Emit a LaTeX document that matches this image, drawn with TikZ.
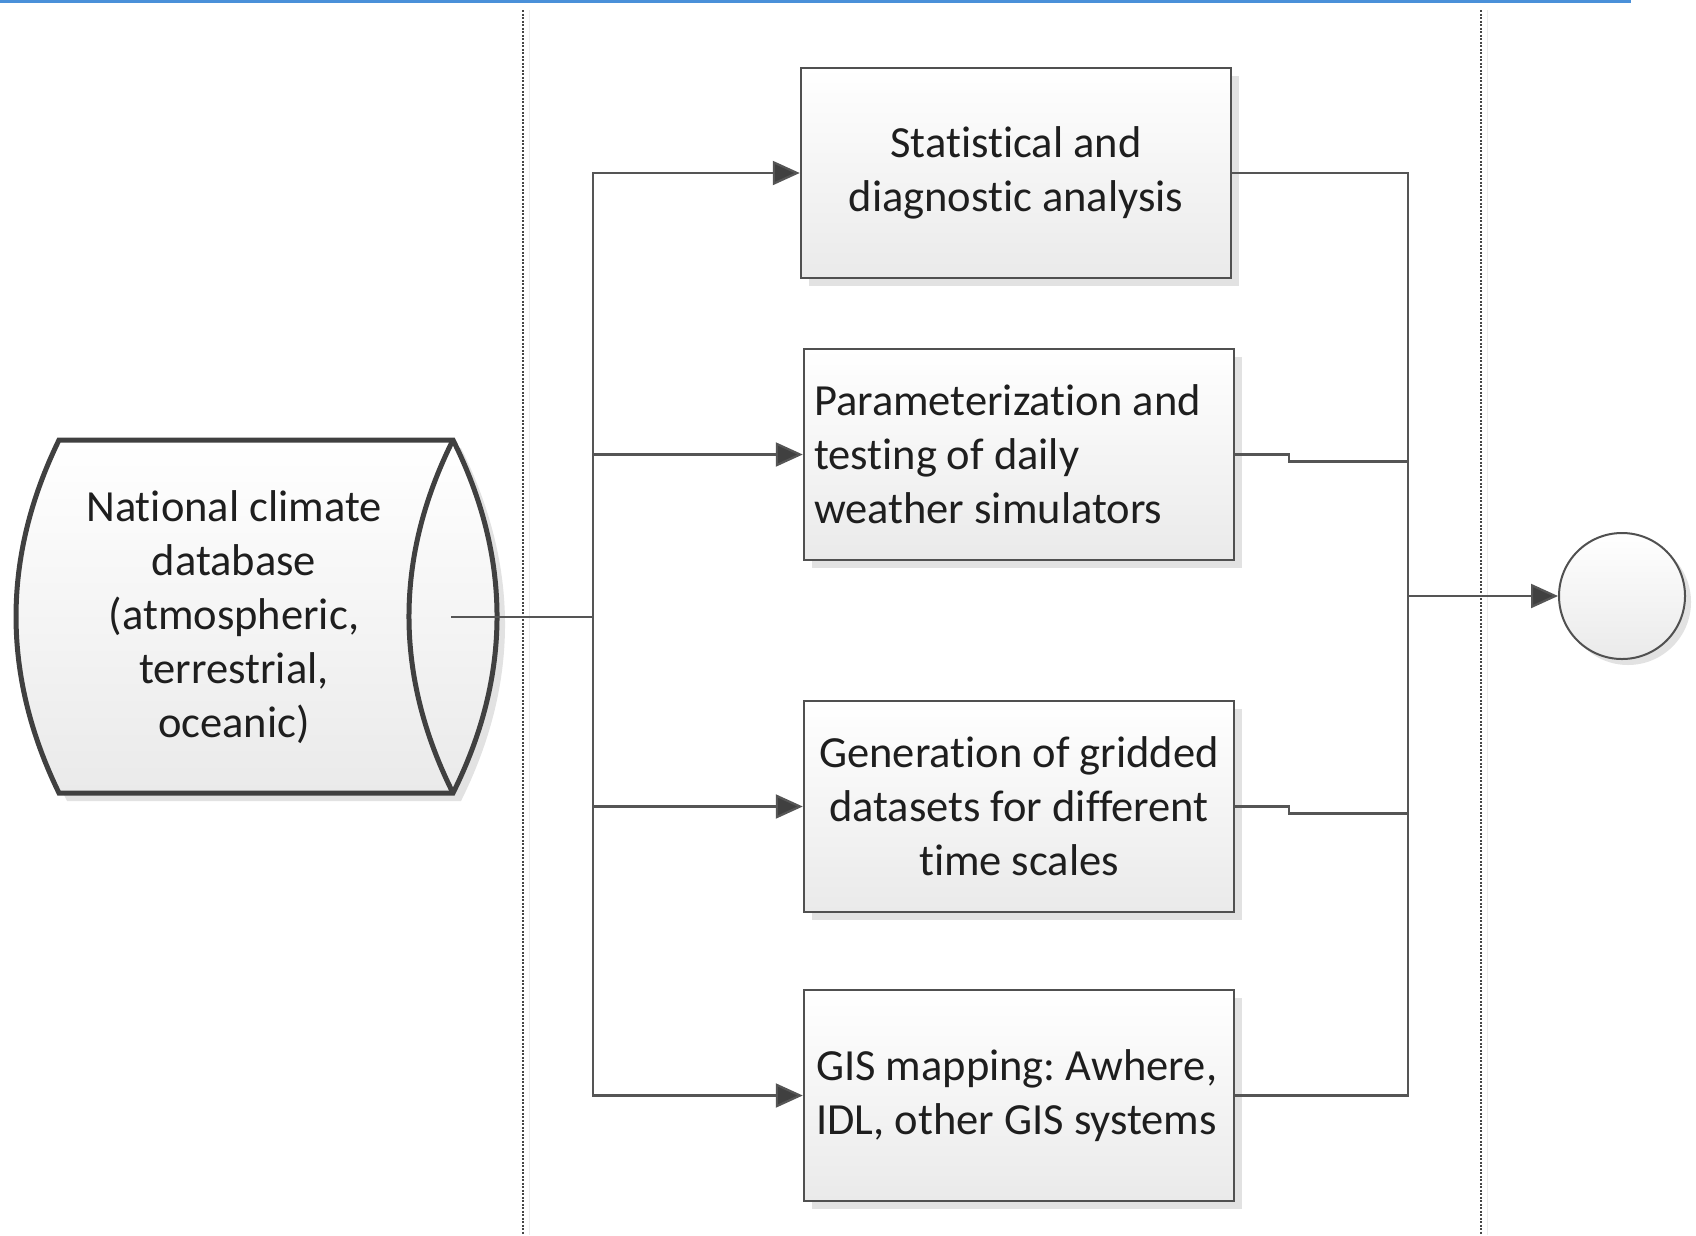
\documentclass[tikz,border=0pt]{standalone}
\usepackage{fontspec}
\setmainfont{Carlito}[RawFeature={-liga;-clig;-calt;-dlig}]
\frenchspacing
\usetikzlibrary{arrows.meta,shadows}
\definecolor{boxborder}{HTML}{505050}
\definecolor{cylborder}{HTML}{404040}
\definecolor{fillbot}{HTML}{EAEAEA}
\definecolor{shadowc}{HTML}{E2E2E2}
\definecolor{textc}{HTML}{1E1E1E}
\definecolor{connc}{HTML}{555555}
\definecolor{bluec}{HTML}{4A90D9}
\begin{document}
\begin{tikzpicture}[x=1pt,y=-1pt,
  txt/.style={font=\fontsize{44.5}{54}\selectfont, text=textc},
  boxstyle/.style={txt, draw=boxborder, line width=2.5pt, rectangle,
    minimum width=430pt, minimum height=211pt, top color=white, bottom color=fillbot,
    drop shadow={shadow xshift=8pt, shadow yshift=-8pt, fill=shadowc, opacity=1},
    inner sep=0pt},
  conn/.style={draw=connc, line width=2.2pt},
  arr/.style={conn, -{Triangle[length=27pt,width=24pt,fill=cylborder]}},
  divider/.style={draw=gray!55!black, line width=1.6pt, dash pattern=on 2pt off 1.5pt},
  faint/.style={draw=gray!15, line width=1pt},
]
\useasboundingbox (0,0) rectangle (1696,1235);
% top blue rule
\draw[bluec, line width=3pt] (0,1) -- (1631,1);
% lane dividers
\draw[divider] (523,10) -- (523,1235);
\draw[faint] (529,10) -- (529,1235);
\draw[divider] (1481,10) -- (1481,1235);
\draw[faint] (1487,10) -- (1487,1235);

% cylinder (database)
\fill[shadowc, xshift=8pt, yshift=-8pt] (59,440) -- (453,440) .. controls (511.7,557.7) and (511.7,675.3) .. (453,793) -- (59,793) .. controls (1.7,675.3) and (1.7,557.7) .. (59,440) -- cycle;
\path[draw=cylborder, line width=5pt, top color=white, bottom color=fillbot] (59,440) -- (453,440) .. controls (511.7,557.7) and (511.7,675.3) .. (453,793) -- (59,793) .. controls (1.7,675.3) and (1.7,557.7) .. (59,440) -- cycle;
\draw[cylborder, line width=5pt] (453,440) .. controls (394.3,557.7) and (394.3,675.3) .. (453,793);
\node[txt, align=center, inner sep=0pt] (db) at (234,617) {National climate\\database\\(atmospheric,\\terrestrial,\\oceanic)};

% process boxes
\node[boxstyle, align=center, minimum height=210pt] (b1) at (1016,173) {Statistical and\\diagnostic analysis};
\node[boxstyle, align=flush left, text width=410pt] (b2) at (1019,454.5) {Parameterization and\\testing of daily\\weather simulators};
\node[boxstyle, align=center] (b3) at (1019,806.5) {Generation of gridded\\datasets for different\\time scales};
\node[boxstyle, align=flush left, text width=406pt] (b4) at (1019,1095.5) {GIS mapping: Awhere,\\IDL, other GIS systems};

% end event
\node[circle, draw=boxborder, line width=2pt, minimum size=126pt, inner sep=0pt,
  top color=white, bottom color=fillbot,
  drop shadow={shadow xshift=6pt, shadow yshift=-6pt, fill=shadowc, opacity=1}] (end) at (1622,596) {};

% connectors
\coordinate (dbout) at (451,617);
\coordinate (L) at (593,617);
\coordinate (R) at (1408,596);
\draw[conn] (dbout) -- (L);
\draw[arr] (L) |- (b1.west);
\draw[arr] (L) |- (b2.west);
\draw[arr] (L) |- (b3.west);
\draw[arr] (L) |- (b4.west);
\draw[conn] (b1.east) -| (R);
\draw[conn] (b4.east) -| (R);
\draw[conn] (b2.east) -- ++(54,0) -- ++(0,7) -| (R);
\draw[conn] (b3.east) -- ++(54,0) -- ++(0,7) -| (R);
\draw[arr] (R) -- (end);
\end{tikzpicture}
\end{document}
